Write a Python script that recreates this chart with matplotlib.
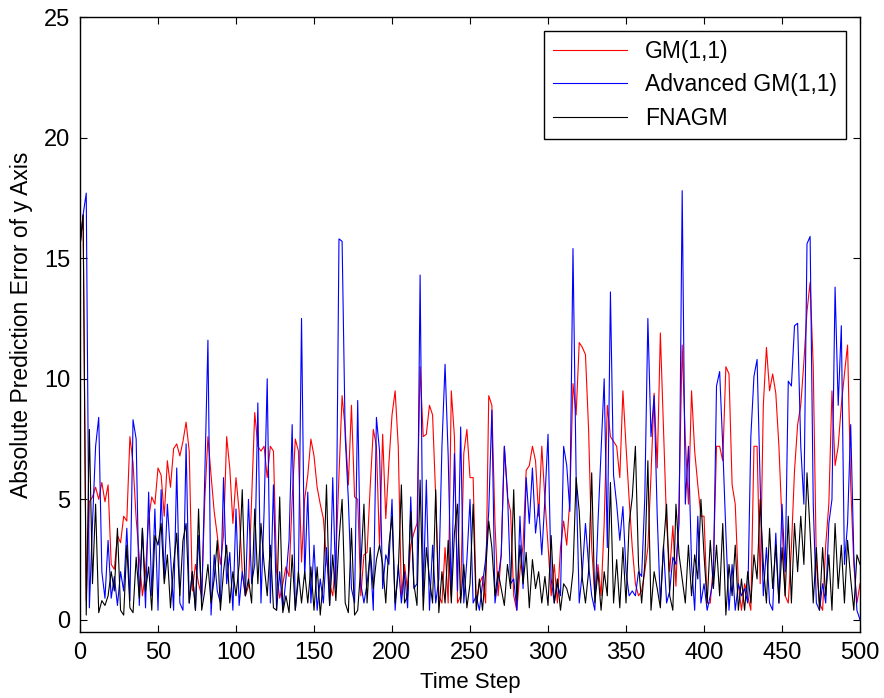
import numpy as np
import matplotlib
matplotlib.use("Agg")
import matplotlib.pyplot as plt

plt.rcParams['font.family'] = ['Liberation Sans', 'DejaVu Sans']

# time steps (read every second step from the picture)
time_step = np.arange(0, 501, 2)

gm = [
    15.5, 16.8, 0.8, 4.9, 5.1, 5.5, 5.0, 5.7, 4.9, 5.6, 2.3, 2.1, 3.5, 3.2, 4.3, 4.1, 7.6, 6.5, 4.2, 2.6, 1.0, 2.0, 4.2, 5.1, 4.8,
    6.3, 6.0, 4.3, 6.6, 5.5, 7.1, 7.3, 6.8, 7.4, 8.2, 7.0, 1.2, 2.3, 1.5, 1.0, 5.0, 7.6, 6.0, 4.5, 3.5, 2.3, 3.5, 7.6, 6.3, 4.0,
    5.9, 4.5, 2.0, 1.0, 1.4, 5.0, 8.6, 7.2, 7.0, 7.2, 5.9, 7.2, 7.0, 2.0, 0.9, 1.5, 2.2, 1.8, 5.0, 7.5, 7.0, 2.4, 5.0, 6.0, 7.5,
    6.8, 5.5, 4.8, 4.2, 2.5, 1.5, 1.0, 2.5, 6.0, 9.3, 7.9, 5.6, 8.9, 5.1, 5.0, 1.0, 2.7, 2.8, 5.5, 7.9, 7.2, 3.0, 7.7, 4.2, 6.5,
    8.5, 9.5, 7.2, 1.0, 2.3, 1.2, 3.1, 3.6, 4.0, 10.5, 7.6, 7.7, 8.9, 8.5, 5.1, 1.0, 0.7, 3.0, 0.7, 9.5, 7.6, 0.7, 1.0, 6.9, 7.9,
    5.9, 5.9, 0.7, 1.5, 1.8, 0.7, 9.3, 8.9, 4.0, 1.0, 2.7, 7.2, 5.1, 4.5, 1.0, 0.4, 2.0, 3.1, 6.2, 6.4, 7.2, 6.6, 4.3, 7.2, 5.0,
    3.1, 1.0, 2.3, 0.7, 3.0, 4.1, 3.1, 5.0, 9.8, 8.5, 11.5, 11.3, 11.0, 7.9, 3.0, 1.0, 2.3, 1.0, 4.0, 8.9, 7.6, 7.4, 7.2, 5.9, 9.5,
    7.2, 5.0, 3.0, 1.5, 1.0, 1.2, 2.0, 3.0, 6.0, 9.4, 6.3, 11.9, 8.0, 4.0, 2.0, 3.9, 1.4, 5.0, 11.4, 7.5, 4.8, 9.5, 7.0, 5.6, 4.3,
    4.3, 0.7, 0.7, 2.3, 7.2, 7.2, 6.6, 10.5, 10.2, 5.6, 4.8, 1.5, 0.4, 1.5, 1.0, 0.4, 7.2, 7.2, 1.5, 8.9, 11.3, 9.5, 10.2, 9.4, 7.2,
    4.0, 1.0, 0.7, 3.0, 6.2, 8.1, 8.9, 10.7, 12.8, 14.0, 10.5, 2.3, 0.7, 0.4, 3.1, 4.8, 9.5, 6.4, 7.2, 8.9, 10.2, 11.4, 5.6, 2.3, 0.7, 1.5,
]

advanced_gm = [
    15.5, 16.8, 17.7, 0.5, 4.0, 7.2, 8.4, 2.0, 0.9, 3.3, 0.9, 1.8, 0.6, 2.0, 1.2, 3.8, 0.8, 8.3, 7.5, 0.6, 3.8, 0.5, 5.3, 1.0, 4.6,
    0.4, 5.4, 1.7, 4.8, 2.7, 0.4, 6.3, 0.7, 0.4, 7.3, 0.7, 2.0, 0.4, 3.5, 0.7, 6.0, 11.6, 0.2, 2.7, 1.2, 0.7, 5.9, 1.5, 2.8, 0.4,
    4.6, 0.6, 2.0, 1.0, 5.0, 1.5, 2.3, 9.0, 0.7, 4.5, 10.0, 0.7, 5.6, 0.4, 2.0, 0.4, 1.7, 3.3, 8.1, 0.4, 1.7, 12.5, 1.7, 5.3, 0.7,
    3.1, 0.4, 1.7, 0.7, 3.0, 0.6, 5.9, 1.3, 15.8, 15.7, 7.6, 5.0, 1.3, 0.7, 9.1, 1.5, 0.7, 1.5, 2.7, 0.4, 8.4, 7.0, 1.3, 2.7, 2.3,
    5.0, 0.4, 2.3, 0.7, 2.0, 0.5, 5.1, 1.3, 1.5, 14.3, 1.0, 5.8, 0.4, 3.1, 0.7, 1.7, 7.2, 10.6, 6.8, 1.0, 6.9, 1.2, 8.0, 0.7, 2.5,
    5.0, 0.7, 1.0, 0.4, 1.5, 2.5, 4.5, 8.7, 0.7, 1.7, 2.7, 7.2, 5.3, 1.5, 1.7, 0.4, 4.3, 1.3, 5.9, 4.0, 6.3, 3.6, 4.8, 2.7, 5.0,
    7.7, 1.7, 0.7, 1.5, 1.0, 7.2, 6.4, 4.5, 15.4, 6.0, 0.7, 2.0, 4.0, 2.3, 1.0, 0.4, 4.0, 7.0, 10.0, 3.0, 13.6, 6.0, 4.8, 3.3, 4.7,
    2.0, 1.0, 1.2, 1.0, 2.0, 1.8, 5.0, 12.5, 7.6, 9.3, 4.3, 0.7, 3.1, 0.7, 1.2, 2.6, 2.3, 4.0, 17.8, 4.8, 7.2, 2.3, 0.4, 4.3, 0.7,
    1.5, 0.4, 1.0, 1.7, 9.7, 10.3, 7.2, 3.6, 0.4, 2.3, 0.4, 1.5, 1.0, 1.3, 0.7, 7.6, 10.1, 10.8, 5.6, 1.0, 3.0, 0.7, 0.4, 3.6, 0.7,
    4.8, 2.0, 9.9, 9.7, 12.2, 12.3, 7.2, 4.8, 15.6, 15.9, 4.8, 0.7, 0.4, 1.5, 0.7, 4.0, 5.0, 13.8, 8.9, 12.2, 2.3, 4.0, 8.1, 2.7, 0.4, 0.0,
]

fnagm = [
    15.5, 16.8, 0.2, 7.9, 1.5, 4.8, 0.3, 0.8, 0.6, 1.0, 2.0, 1.2, 3.8, 0.4, 0.2, 3.1, 0.5, 0.3, 2.6, 0.9, 3.8, 1.2, 2.2, 0.4, 3.5,
    3.1, 4.0, 1.5, 2.7, 0.5, 2.3, 3.6, 1.0, 3.3, 4.0, 0.7, 2.0, 0.4, 4.6, 0.4, 1.2, 2.3, 0.7, 1.7, 3.3, 0.4, 2.0, 3.1, 0.7, 2.0,
    1.0, 2.3, 5.4, 1.0, 1.7, 0.7, 4.6, 1.5, 4.0, 2.3, 1.0, 3.1, 0.5, 0.4, 5.1, 0.3, 1.0, 0.3, 2.7, 0.4, 2.0, 0.7, 2.0, 0.7, 2.2,
    0.4, 2.2, 0.2, 1.7, 5.6, 0.6, 2.7, 0.8, 3.3, 5.0, 0.7, 0.3, 3.8, 0.2, 0.4, 2.2, 4.8, 0.7, 3.0, 1.3, 2.5, 3.1, 2.3, 0.7, 3.1,
    4.3, 0.7, 2.0, 5.6, 0.7, 1.0, 4.5, 1.5, 0.6, 5.8, 0.4, 3.0, 1.7, 0.7, 5.4, 0.3, 2.0, 0.7, 3.3, 0.7, 3.6, 4.8, 0.7, 2.3, 0.5,
    1.5, 4.8, 0.4, 1.7, 0.4, 2.0, 4.1, 3.0, 1.0, 2.0, 1.3, 0.6, 2.3, 1.3, 5.4, 0.8, 3.1, 1.5, 2.8, 0.5, 2.5, 1.3, 2.0, 0.7, 1.8,
    0.6, 3.5, 0.7, 1.7, 0.4, 1.5, 1.3, 0.8, 2.0, 5.9, 4.5, 1.7, 0.7, 2.0, 6.1, 0.7, 2.0, 0.4, 2.0, 1.0, 5.7, 0.7, 2.5, 0.5, 3.0,
    0.7, 4.0, 5.1, 7.2, 2.3, 0.7, 2.3, 6.6, 0.4, 2.0, 1.3, 0.5, 3.0, 4.8, 1.0, 0.4, 4.8, 2.7, 1.7, 0.7, 3.1, 1.0, 2.7, 1.7, 5.0,
    2.7, 0.7, 3.3, 1.3, 3.1, 1.0, 4.0, 0.2, 2.3, 1.0, 3.1, 0.4, 1.7, 0.4, 2.0, 0.7, 2.7, 1.7, 5.0, 2.3, 0.7, 3.8, 1.3, 3.1, 0.7,
    3.0, 1.0, 4.3, 0.7, 4.0, 2.0, 4.3, 2.3, 6.1, 3.6, 0.7, 3.0, 0.4, 3.0, 1.0, 2.7, 0.4, 4.0, 1.3, 3.1, 0.7, 3.3, 1.7, 0.4, 2.7, 2.3,
]

labels = ['GM(1,1)', 'Advanced GM(1,1)', 'FNAGM']
colors = ['#ff0000', '#0000ff', '#000000']

fig = plt.figure(figsize=(8.84, 6.98), dpi=100)
ax = fig.add_axes([0.0905, 0.0946, 0.8824, 0.881])

for series, lab, col in zip([gm, advanced_gm, fnagm], labels, colors):
    ax.plot(time_step, series, color=col, linewidth=0.8, label=lab)

ax.set_xlim(0, 500)
ax.set_ylim(-0.5, 25)
ax.set_xticks(np.arange(0, 501, 50))
ax.set_yticks(np.arange(0, 26, 5))
ax.tick_params(direction='in', top=True, right=True, length=5, width=0.8,
               labelsize=17, pad=7)
for sp in ax.spines.values():
    sp.set_linewidth(1.0)

ax.set_xlabel('Time Step', fontsize=16, labelpad=6)
ax.set_ylabel('Absolute Prediction Error of y Axis', fontsize=16.5, labelpad=8)

leg = ax.legend(loc='upper right', fontsize=16.5, fancybox=False,
                edgecolor='black', framealpha=1, handlelength=3.2,
                borderaxespad=0.6, labelspacing=0.45, borderpad=0.4)
leg.get_frame().set_linewidth(1.0)

fig.savefig('out.png', dpi=100)
